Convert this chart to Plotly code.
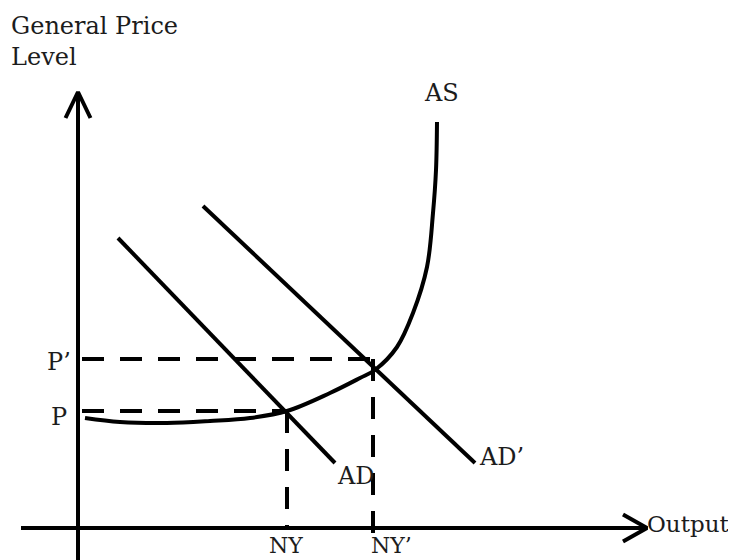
import plotly.graph_objects as go

# ---- data (economic units) ----
as_x = [1.4, 8.4, 17.8, 26.4, 34.4, 41.8, 50.4, 56.4, 59.4, 63.8, 67.0, 69.8, 71.0, 71.6, 71.8]
as_y = [22.0, 21.2, 21.0, 21.4, 22.0, 23.4, 27.0, 30.0, 31.6, 36.2, 43.0, 52.2, 63.0, 71.6, 81.2]
ad_x = [8.0, 51.4]
ad_y = [58.0, 13.0]
ad2_x = [25.0, 79.4]
ad2_y = [64.4, 13.0]
eq_output = [41.8, 59.0]      # NY, NY'
eq_price = [23.4, 33.8]       # P, P'
output_labels = ["NY", "NY’"]
price_labels = ["P", "P’"]
curve_labels = ["AS", "AD", "AD’"]
axis_titles = ["General Price<br>Level", "Output"]

FONT = "DejaVu Serif"
TXT = "#1c1c1c"
LW = 4
FS = 24

fig = go.Figure()

def line(x, y, dash=None, shape="linear"):
    fig.add_trace(go.Scatter(
        x=x, y=y, mode="lines",
        line=dict(color="black", width=LW, dash=dash, shape=shape),
        hoverinfo="skip", showlegend=False))

# axes
x_min, x_max = -11.4, 113.8
y_min, y_max = -6.4, 87.2
line([x_min, x_max], [0, 0])
line([0, 0], [y_min, y_max])
# chevron arrowheads
line([x_max - 4.8, x_max, x_max - 4.8], [2.7, 0, -2.7])
line([-2.5, 0, 2.5], [y_max - 5.2, y_max, y_max - 5.2])

# dashed guides
for xo, yp, ybot in zip(eq_output, eq_price, [0, -1.8]):
    line([0.8, xo], [yp, yp], dash="22px,16px")
    line([xo, xo], [yp, ybot], dash="22px,16px")

# curves
line(as_x, as_y, shape="spline")
line(ad_x, ad_y)
line(ad2_x, ad2_y)

def label(text, x, y, xa="center", ya="middle", size=FS):
    fig.add_annotation(x=x, y=y, text=text, showarrow=False,
                       xanchor=xa, yanchor=ya, align="left",
                       font=dict(family=FONT, size=size, color=TXT))

label(axis_titles[0], -13.8, 103.6, xa="left", ya="top")
label(axis_titles[1], 113.4, 0.9, xa="left", size=23)
label(curve_labels[0], 72.6, 87.0)
label(curve_labels[1], 55.6, 10.4)
label(curve_labels[2], 84.6, 14.2)
label(price_labels[0], -1.8, eq_price[0] - 1.2, xa="right")
label(price_labels[1], -1.0, eq_price[1] - 0.6, xa="right")
label(output_labels[0], eq_output[0] - 0.2, -3.4, size=22)
label(output_labels[1], eq_output[1] + 3.6, -3.4, size=22)

# page body has an 8px margin: figure spans page px 8..736 / 8..560
fig.update_layout(
    width=728, height=552,
    margin=dict(l=0, r=0, t=0, b=0),
    paper_bgcolor="white", plot_bgcolor="white",
    xaxis=dict(range=[-14.0, 131.6], visible=False, fixedrange=True),
    yaxis=dict(range=[-6.4, 104.0], visible=False, fixedrange=True),
)
fig.write_html("out.html")
